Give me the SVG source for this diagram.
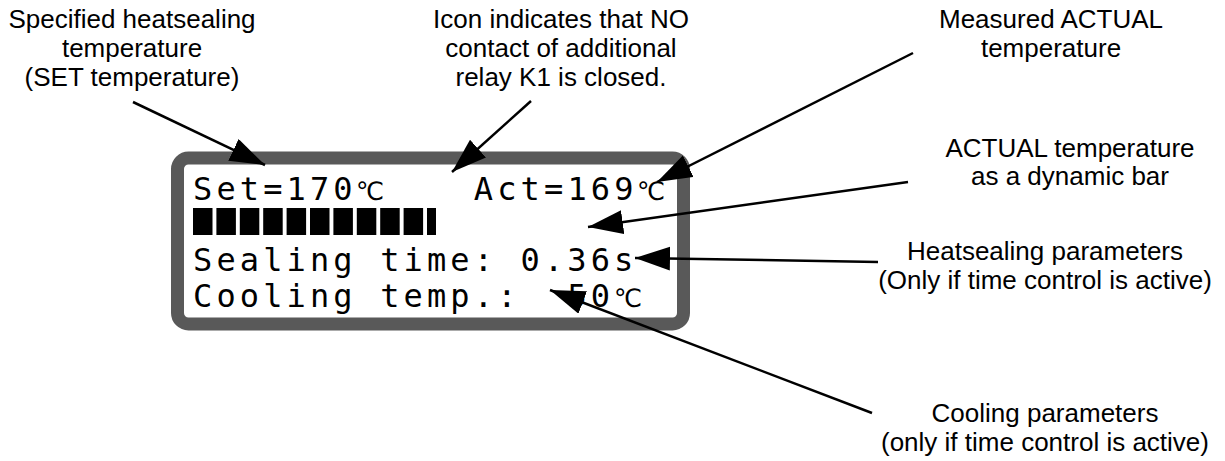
<svg xmlns="http://www.w3.org/2000/svg" width="1225" height="461" viewBox="0 0 1225 461">
<style>
.lbl{font-family:"Liberation Sans",Arial,sans-serif;font-size:26px;fill:#000;text-anchor:middle}
.lcd{font-family:"DejaVu Sans Mono","Liberation Mono",monospace;font-size:32px;letter-spacing:4.13px;fill:#000;white-space:pre}
.dc{font-family:"DejaVu Sans","DejaVu Sans Mono",sans-serif;font-size:25px;fill:#000}
.conn line{stroke:#000;stroke-width:2.5;marker-end:url(#ah)}
</style>
<defs>
<marker id="ah" markerUnits="userSpaceOnUse" markerWidth="38" markerHeight="26" refX="35" refY="12" orient="auto">
<path d="M0,0 L35,12 L0,24 z" fill="#000"/>
</marker>
</defs>
<rect width="1225" height="461" fill="#fff"/>
<g id="lcd">
<rect x="177.5" y="158" width="506" height="166" rx="11" fill="#fff" stroke="#595959" stroke-width="13"/>
<text class="lcd" x="193" y="200">Set=170</text>
<text class="dc" x="356" y="200">℃</text>
<text class="lcd" x="473.8" y="200">Act=169</text>
<text class="dc" x="637" y="200">℃</text>
<g fill="#000">
<rect x="193" y="208" width="19.5" height="27"/>
<rect x="216.4" y="208" width="19.5" height="27"/>
<rect x="239.8" y="208" width="19.5" height="27"/>
<rect x="263.2" y="208" width="19.5" height="27"/>
<rect x="286.6" y="208" width="19.5" height="27"/>
<rect x="310" y="208" width="19.5" height="27"/>
<rect x="333.4" y="208" width="19.5" height="27"/>
<rect x="356.8" y="208" width="19.5" height="27"/>
<rect x="380.2" y="208" width="19.5" height="27"/>
<rect x="403.6" y="208" width="19.5" height="27"/>
<rect x="427" y="208" width="9" height="27"/>
</g>
<text class="lcd" x="193" y="271">Sealing time: 0.36s</text>
<text class="lcd" x="193" y="307">Cooling temp.:</text>
<text class="lcd" x="567.4" y="307">50</text>
<text class="dc" x="614" y="307">℃</text>
</g>
<g id="label-set">
<text class="lbl" x="132" y="28">Specified heatsealing</text>
<text class="lbl" x="132" y="57">temperature</text>
<text class="lbl" x="132" y="86">(SET temperature)</text>
</g>
<g id="label-icon">
<text class="lbl" x="561" y="28">Icon indicates that NO</text>
<text class="lbl" x="561" y="57">contact of additional</text>
<text class="lbl" x="561" y="86">relay K1 is closed.</text>
</g>
<g id="label-actual">
<text class="lbl" x="1051" y="28">Measured ACTUAL</text>
<text class="lbl" x="1051" y="57">temperature</text>
</g>
<g id="label-bar">
<text class="lbl" x="1070" y="157">ACTUAL temperature</text>
<text class="lbl" x="1070" y="185">as a dynamic bar</text>
</g>
<g id="label-heat">
<text class="lbl" x="1045" y="260">Heatsealing parameters</text>
<text class="lbl" x="1045" y="289">(Only if time control is active)</text>
</g>
<g id="label-cool">
<text class="lbl" x="1045" y="422">Cooling parameters</text>
<text class="lbl" x="1045" y="451">(only if time control is active)</text>
</g>
<g id="connectors" class="conn">
<line x1="133" y1="102" x2="265" y2="165"/>
<line x1="531" y1="101" x2="452" y2="172"/>
<line x1="913" y1="53" x2="657" y2="182"/>
<line x1="908" y1="182" x2="588" y2="227"/>
<line x1="878" y1="262" x2="635" y2="258"/>
<line x1="872" y1="413" x2="550" y2="290"/>
</g>
</svg>
